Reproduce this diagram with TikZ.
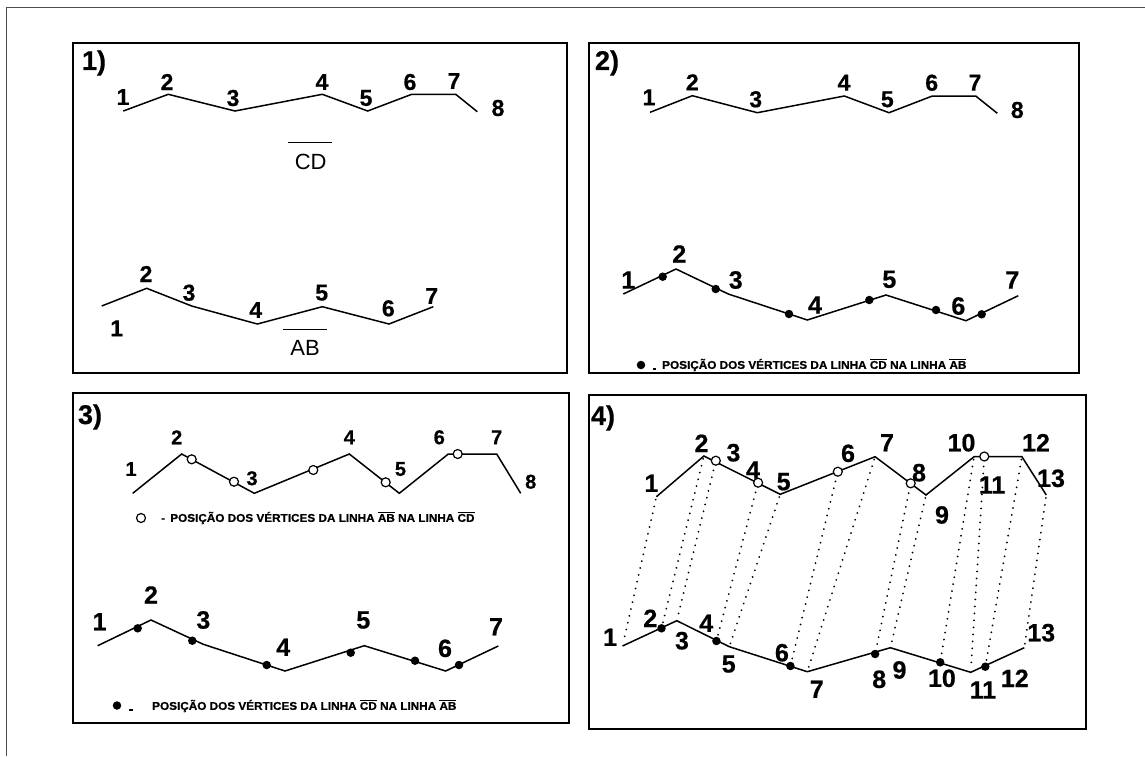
\documentclass[tikz,border=0pt]{standalone}
\usepackage{fontspec}
\setmainfont{Liberation Sans}[BoldFeatures={FakeBold=0.6}]
\newfontfamily\legendfont{Liberation Sans Bold}[FakeBold=0.8,FakeStretch=1.04]
\newcommand\ovl[1]{\ensuremath{\overline{\hbox{#1}}}}
\begin{document}
\begin{tikzpicture}[x=1pt,y=-1pt,
  outer/.style={draw=black!70,line width=0.8pt},
  panel/.style={draw=black,line width=1.4pt},
  poly/.style={line width=1.5pt,line join=miter},
  numA/.style={inner sep=0pt,font=\bfseries\fontsize{23}{23}\selectfont},
  numB/.style={inner sep=0pt,font=\bfseries\fontsize{20}{20}\selectfont},
  numC/.style={inner sep=0pt,font=\bfseries\fontsize{25}{25}\selectfont},
  tag/.style={inner sep=0pt,font=\bfseries\fontsize{27}{27}\selectfont},
  seg/.style={inner sep=0pt,font=\fontsize{22}{22}\selectfont},
  legend/.style={inner sep=0pt,anchor=west,font=\legendfont\fontsize{11.3}{11.3}\selectfont},
  dotmark/.style={circle,fill=black,inner sep=0pt,minimum size=8.5pt},
  ringmark/.style={circle,draw=black,fill=white,line width=1.2pt,inner sep=0pt,minimum size=9pt},
  proj/.style={line width=2pt,line cap=round,dash pattern=on 0.01pt off 7pt,shorten <=3pt,shorten >=3pt}]
\useasboundingbox (0,0) rectangle (1145,756);

% sheet edge
\draw[outer] (6,756) -- (6,7) -- (1145,7);

% panel frames
\draw[panel] (73,43) rectangle (567,373);
\draw[panel] (589,43) rectangle (1079,373);
\draw[panel] (73,393) rectangle (569,723);
\draw[panel] (589,395) rectangle (1086,729);

% ---------- panel 1 ----------
\node[tag] (tag1) at (94,63) {1)};
\foreach \n/\x/\y in {1/123.3/111,2/168.3/94.3,3/235/111,4/322.3/94.3,5/367.7/111,6/411.7/94.3,7/455.7/94.3,8/477.3/111.7}
  \coordinate (pa\n) at (\x,\y);
\draw[poly] (pa1) \foreach \i in {2,...,8}{-- (pa\i)};
\foreach \n/\x/\y in {1/123/97,2/167/82,3/233/98,4/322/82,5/366/98,6/410/82,7/454/81,8/498/108}
  \node[numA] (la\n) at (\x,\y) {\n};
\node[seg] (cd1) at (310.7,161.7) {CD};
\draw[line width=1.3pt] ([shift={(-23,-19)}]cd1.center) -- ([shift={(21,-19)}]cd1.center);

\foreach \n/\x/\y in {1/101.7/306,2/146.7/288.3,3/191.7/306,4/257.3/324,5/322.3/306.7,6/389/324,7/433.3/306.7}
  \coordinate (pb\n) at (\x,\y);
\draw[poly] (pb1) \foreach \i in {2,...,7}{-- (pb\i)};
\foreach \n/\x/\y in {1/116.7/328.3,2/146/274,3/189/292.7,4/255.7/310,5/321.7/292.7,6/388.3/308.3,7/431.7/296}
  \node[numA] (lb\n) at (\x,\y) {\n};
\node[seg] (ab1) at (305,347.7) {AB};
\draw[line width=1.3pt] ([shift={(-22,-18.5)}]ab1.center) -- ([shift={(22,-18.5)}]ab1.center);

% ---------- panel 2 ----------
\node[tag] (tag2) at (607,63) {2)};
\foreach \n/\x/\y in {1/650/112.3,2/692.3/95.7,3/757.3/112.7,4/844.3/96,5/889/112.7,6/932.3/96,7/975.7/96,8/997.3/113.3}
  \coordinate (qa\n) at (\x,\y);
\draw[poly] (qa1) \foreach \i in {2,...,8}{-- (qa\i)};
\foreach \n/\x/\y in {1/649/97.3,2/692.3/82.3,3/755.7/99.3,4/844/82.7,5/887.3/99.3,6/931.7/82.7,7/975/82.7,8/1017.3/110}
  \node[numA] (lqa\n) at (\x,\y) {\n};

\foreach \n/\x/\y in {1/623.3/294,2/676/269,3/728.3/294,4/807.3/320,5/886/295,6/966/320.7,7/1018.3/295.7}
  \coordinate (qb\n) at (\x,\y);
\draw[poly] (qb1) \foreach \i in {2,...,7}{-- (qb\i)};
\foreach \n/\x/\y in {1/662.7/276.7,2/715.7/289,3/789/314,4/869.3/300,5/936/310,6/981.7/314.3}
  \node[dotmark] (qd\n) at (\x,\y) {};
\foreach \n/\x/\y in {1/628.3/280,2/679.3/254,3/735.7/280,4/815/305,5/889.3/279.3,6/958.3/306,7/1012.3/280}
  \node[numC] (lqb\n) at (\x,\y) {\n};
\node[dotmark] (key2) at (641,365) {};
\coordinate (key2a) at (653,368.5);
\coordinate (key2b) at (656,368.5);
\draw[line width=2pt] (key2a) -- (key2b);
\node[legend] (txt2) at (662,365) {POSIÇÃO DOS VÉRTICES DA LINHA \ovl{CD} NA LINHA \ovl{AB}};

% ---------- panel 3 ----------
\node[tag] (tag3) at (90,417) {3)};
\foreach \n/\x/\y in {1/132.7/493.3,2/181.7/454,3/254.3/493.3,4/349.3/454,5/399.3/493.3,6/448.3/454,7/496.7/454,8/520.7/493.3}
  \coordinate (ra\n) at (\x,\y);
\draw[poly] (ra1) \foreach \i in {2,...,8}{-- (ra\i)};
\foreach \n/\x/\y in {1/191.7/459.3,2/234/481.7,3/313.3/470,4/385.7/482.3,5/457.7/454}
  \node[ringmark] (rr\n) at (\x,\y) {};
\foreach \n/\x/\y in {1/131/469,2/176.7/437.3,3/252/478.3,4/349.3/437.3,5/400.5/469,6/439.3/437.3,7/496.7/437.3,8/530.7/481.7}
  \node[numB] (lra\n) at (\x,\y) {\n};
\node[ringmark] (key3a) at (141,518) {};
\node[legend] (txt3a) at (161,518) {-\, POSIÇÃO DOS VÉRTICES DA LINHA \ovl{AB} NA LINHA \ovl{CD}};

\foreach \n/\x/\y in {1/97.7/645.7,2/151/620,3/203.3/644.3,4/285/671,5/364.3/645.7,6/445.7/671,7/498.3/646}
  \coordinate (rb\n) at (\x,\y);
\draw[poly] (rb1) \foreach \i in {2,...,7}{-- (rb\i)};
\foreach \n/\x/\y in {1/137.7/628.3,2/192.3/640.7,3/266.7/665,4/350.7/652.7,5/415/660.7,6/459/665}
  \node[dotmark] (rd\n) at (\x,\y) {};
\foreach \n/\x/\y in {1/99.5/621.7,2/151/595,3/203.3/620,4/283.3/647.3,5/363.3/620,6/445/648.3,7/496/626.7}
  \node[numC] (lrb\n) at (\x,\y) {\n};
\node[dotmark] (key3b) at (117,705.5) {};
\coordinate (key3c) at (129,710);
\coordinate (key3d) at (133,710);
\draw[line width=2pt] (key3c) -- (key3d);
\node[legend] (txt3b) at (152,706) {POSIÇÃO DOS VÉRTICES DA LINHA \ovl{CD} NA LINHA \ovl{AB}};

% ---------- panel 4 ----------
\node[tag] (tag4) at (603,418) {4)};
\foreach \n/\x/\y in {1/656.4/496.7,2/703.9/456,3/715.8/460.7,4/758.1/482.7,5/780.2/494.3,6/837.8/471.7,7/875.1/456.7,8/910.7/483.3,9/926/495,10/974.1/456.7,11/984.3/456.5,12/1021.9/456.7,13/1046.3/495}
  \coordinate (sa\n) at (\x,\y);
\foreach \n/\x/\y in {1/622.5/646,2/661.5/628.3,3/676.8/620.7,4/716.4/641,5/729.3/646.7,6/790.4/666,7/807.3/671.7,8/875.1/654,9/890.4/647.7,10/940.2/662.3,11/970.7/672.3,12/985.3/666.7,13/1024.3/647.7}
  \coordinate (sb\n) at (\x,\y);
% projection lines between matching vertices
\foreach \i in {1,...,13}
  \draw[proj] (sa\i) -- (sb\i);
\draw[poly] (sa1) -- (sa2) -- (sa5) -- (sa7) -- (sa9) -- (sa10) -- (sa12) -- (sa13);
\draw[poly] (sb1) -- (sb3) -- (sb5) -- (sb7) -- (sb9) -- (sb11) -- (sb13);
\foreach \i in {3,4,6,8,11}
  \node[ringmark] (sr\i) at (sa\i) {};
\foreach \i in {2,4,6,8,10,12}
  \node[dotmark] (sd\i) at (sb\i) {};
\foreach \n/\x/\y in {1/651.4/483.3,2/701.5/443.3,3/733.4/452.7,4/753/470,5/783.6/481.7,6/848/453.3,7/887/442.7,8/919/472.7,9/942/515,10/961.5/442.7,11/992/485,12/1036/442.7,13/1051/478.3}
  \node[numC] (lsa\n) at (\x,\y) {\n};
\foreach \n/\x/\y in {1/610/637.3,2/650.3/618.3,3/681.9/640.7,4/706.3/623.3,5/728.7/664,6/781.9/652.7,7/816.8/689.3,8/879.2/679.3,9/899.5/670,10/941.9/678.3,11/982.9/690,12/1014.8/678.3,13/1041.2/632.7}
  \node[numC] (lsb\n) at (\x,\y) {\n};
\end{tikzpicture}
\end{document}
